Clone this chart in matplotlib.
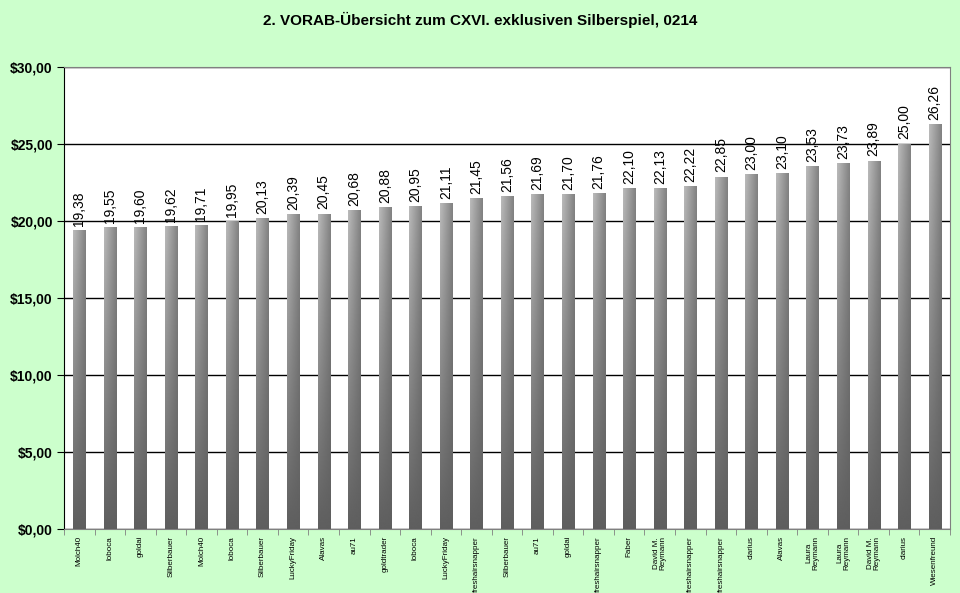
import matplotlib
matplotlib.use('Agg')
from matplotlib import pyplot as plt
from matplotlib.ticker import MultipleLocator, FuncFormatter
import numpy as np

plt.rcParams['font.family'] = ['Liberation Sans', 'DejaVu Sans']

names = ['Molch40', 'loboca', 'goldai', 'Silberbauer', 'Molch40', 'loboca',
         'Silberbauer', 'LuckyFriday', 'Alavas', 'au71', 'goldtrader', 'loboca',
         'LuckyFriday', 'freshairsnapper', 'Silberbauer', 'au71', 'goldai',
         'freshairsnapper', 'Faber', 'David M.\nReymann', 'freshairsnapper',
         'freshairsnapper', 'clarius', 'Alavas', 'Laura\nReymann', 'Laura\nReymann',
         'David M.\nReymann', 'clarius', 'Wiesenfreund']
werte = [19.38, 19.55, 19.60, 19.62, 19.71, 19.95, 20.13, 20.39, 20.45, 20.68,
         20.88, 20.95, 21.11, 21.45, 21.56, 21.69, 21.70, 21.76, 22.10, 22.13,
         22.22, 22.85, 23.00, 23.10, 23.53, 23.73, 23.89, 25.00, 26.26]

fig = plt.figure(figsize=(9.6, 5.93), dpi=100, facecolor='#CCFFCC')
ax = fig.add_axes([64 / 960, 64 / 593, 886 / 960, 462 / 593])
ax.set_facecolor('white')

x = np.arange(len(werte))
breite = 0.4

# Verlauf: oben hell, unten dunkel, links heller als rechts
tx = np.linspace(0, 1, 20)[None, :]
ty = np.linspace(1, 0, 200)[:, None]
grad = 0.37 + ty * (0.36 - 0.22 * tx)

bars = ax.bar(x, werte, width=breite, color='none', zorder=3)
for b, w in zip(bars, werte):
    x0 = b.get_x()
    ax.imshow(grad, cmap='gray', vmin=0, vmax=1, aspect='auto',
              extent=[x0, x0 + breite, 0, w], zorder=3, interpolation='bilinear')
    ax.text(b.get_x() + breite / 2, w + 0.3, '{:.2f}'.format(w).replace('.', ','),
            rotation=90, ha='center', va='bottom', fontsize=10, zorder=4)

ax.set_xlim(-0.5, len(werte) - 0.5)
ax.set_ylim(0, 30)
ax.yaxis.set_major_locator(MultipleLocator(5))
ax.yaxis.set_major_formatter(FuncFormatter(lambda v, p: '${:.2f}'.format(v).replace('.', ',')))
ax.grid(axis='y', color='black', linewidth=1, zorder=1)
ax.set_axisbelow(True)

ax.set_xticks(x)
ax.set_xticklabels(names, rotation=90, fontsize=5.8, va='top', ha='center',
                   linespacing=0.95)
ax.set_xticks(np.arange(-0.5, len(werte)), minor=True)
ax.tick_params(axis='x', which='major', length=0, pad=5)
ax.tick_params(axis='x', which='minor', length=4, color='gray', direction='out')
ax.tick_params(axis='y', length=5, direction='out', labelsize=10, pad=3)
for lab in ax.get_yticklabels():
    lab.set_fontweight('bold')

ax.spines['left'].set_color('black')
for s in ['top', 'right', 'bottom']:
    ax.spines[s].set_color('gray')

fig.text(0.5, 1 - 20 / 593, '2. VORAB-Übersicht zum CXVI. exklusiven Silberspiel, 0214',
         ha='center', va='center', fontsize=11, fontweight='bold')

plt.savefig('out.png', dpi=100, facecolor=fig.get_facecolor())
